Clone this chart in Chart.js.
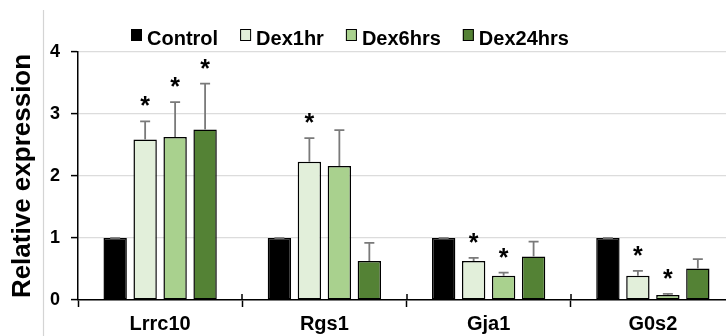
<!DOCTYPE html>
<html>
<head>
<meta charset="utf-8">
<script src="https://cdn.jsdelivr.net/npm/chart.js@4/dist/chart.umd.min.js"></script>
<style>
  html, body { margin: 0; padding: 0; background: #fff; overflow: hidden; width: 726px; height: 336px; }
  canvas { display: block; }
</style>
</head>
<body>
<canvas id="c" width="740" height="336"></canvas>
<script>
// Genes on the x axis
const genes = ['Lrrc10', 'Rgs1', 'Gja1', 'G0s2'];

// Treatment groups
const groupNames = ['Control', 'Dex1hr', 'Dex6hrs', 'Dex24hrs'];

// Mean relative expression per group (one value per gene)
const controlMean  = [1.00, 1.00, 1.00, 1.00];
const dex1hrMean   = [2.59, 2.23, 0.63, 0.39];
const dex6hrsMean  = [2.63, 2.16, 0.39, 0.08];
const dex24hrsMean = [2.75, 0.63, 0.70, 0.51];

// Upper error (SEM) per group
const controlErr  = [0.00, 0.00, 0.00, 0.00];
const dex1hrErr   = [0.29, 0.38, 0.05, 0.08];
const dex6hrsErr  = [0.56, 0.58, 0.05, 0.02];
const dex24hrsErr = [0.74, 0.29, 0.24, 0.15];

// Significance versus control (1 = marked with *)
const controlSig  = [0, 0, 0, 0];
const dex1hrSig   = [1, 1, 1, 1];
const dex6hrsSig  = [1, 0, 1, 1];
const dex24hrsSig = [1, 0, 0, 0];

// Y axis ticks
const yTicks = [0, 1, 2, 3, 4];

const FONT = "'Liberation Sans', Arial, Helvetica, sans-serif";
const fills = ['#000000', '#e2efda', '#a9d18e', '#548235'];

const means = [controlMean, dex1hrMean, dex6hrsMean, dex24hrsMean];
const errs  = [controlErr, dex1hrErr, dex6hrsErr, dex24hrsErr];
const sigs  = [controlSig, dex1hrSig, dex6hrsSig, dex24hrsSig];

const datasets = groupNames.map((name, i) => ({
  label: name,
  data: means[i],
  errors: errs[i],
  significant: sigs[i],
  backgroundColor: fills[i],
  borderColor: '#000000',
  borderWidth: 1.5,
  borderSkipped: false,
  categoryPercentage: 0.73,
  barPercentage: 0.78
}));

// Faint frame line at the left of the figure
const framePlugin = {
  id: 'frame',
  beforeDraw(chart) {
    const ctx = chart.ctx;
    ctx.save();
    ctx.fillStyle = '#ffffff';
    ctx.fillRect(0, 0, chart.width, chart.height);
    ctx.strokeStyle = '#d4d4d4';
    ctx.lineWidth = 1.2;
    ctx.beginPath();
    ctx.moveTo(43.5, 10);
    ctx.lineTo(43.5, chart.height);
    ctx.stroke();
    ctx.restore();
  }
};

// Error bars (upper only) and significance asterisks
const errorBarPlugin = {
  id: 'errorBars',
  afterDatasetsDraw(chart) {
    const ctx = chart.ctx;
    const y = chart.scales.y;
    ctx.save();
    chart.data.datasets.forEach((ds, d) => {
      const meta = chart.getDatasetMeta(d);
      meta.data.forEach((bar, i) => {
        const top = y.getPixelForValue(ds.data[i] + ds.errors[i]);
        ctx.strokeStyle = '#7a7a7a';
        ctx.lineWidth = 1.8;
        ctx.beginPath();
        ctx.moveTo(bar.x, bar.y);
        ctx.lineTo(bar.x, top);
        ctx.moveTo(bar.x - 5, top);
        ctx.lineTo(bar.x + 5, top);
        ctx.stroke();
        if (ds.significant[i]) {
          ctx.fillStyle = '#000000';
          ctx.font = 'bold 25px ' + FONT;
          ctx.textAlign = 'center';
          ctx.textBaseline = 'alphabetic';
          ctx.fillText('*', bar.x, top - 7);
        }
      });
    });
    ctx.restore();
  }
};

// Short marks above the x axis between gene groups
const separatorPlugin = {
  id: 'separators',
  afterDraw(chart) {
    const x = chart.scales.x;
    const ctx = chart.ctx;
    const bottom = chart.chartArea.bottom;
    ctx.save();
    ctx.strokeStyle = '#000000';
    ctx.lineWidth = 1.5;
    ctx.beginPath();
    for (let i = 0; i < genes.length - 1; i++) {
      const px = Math.round((x.getPixelForValue(i) + x.getPixelForValue(i + 1)) / 2);
      ctx.moveTo(px, bottom - 6);
      ctx.lineTo(px, bottom);
    }
    ctx.stroke();
    ctx.restore();
  }
};

// Legend row drawn above the plot
const legendPlugin = {
  id: 'topLegend',
  afterDraw(chart) {
    const ctx = chart.ctx;
    ctx.save();
    ctx.font = 'bold 20px ' + FONT;
    ctx.textBaseline = 'alphabetic';
    ctx.textAlign = 'left';
    let cx = 131;
    chart.data.datasets.forEach(ds => {
      ctx.fillStyle = ds.backgroundColor;
      ctx.fillRect(cx, 29, 11, 12);
      ctx.strokeStyle = '#000000';
      ctx.lineWidth = 1;
      ctx.strokeRect(cx + 0.5, 29.5, 10, 11);
      ctx.fillStyle = '#000000';
      ctx.fillText(ds.label, cx + 16, 44.5);
      cx += 16 + ctx.measureText(ds.label).width + 22;
    });
    ctx.restore();
  }
};

new Chart(document.getElementById('c'), {
  type: 'bar',
  data: { labels: genes, datasets },
  plugins: [framePlugin, errorBarPlugin, separatorPlugin, legendPlugin],
  options: {
    responsive: false,
    animation: false,
    layout: { padding: { top: 52, right: 5, left: 0, bottom: 0 } },
    plugins: { legend: { display: false }, tooltip: { enabled: false } },
    scales: {
      x: {
        offset: true,
        grid: {
          display: true,
          offset: true,
          drawOnChartArea: false,
          drawTicks: true,
          tickLength: 7,
          tickColor: '#000000',
          tickWidth: 1.5
        },
        border: { display: true, color: '#000000', width: 1.5 },
        ticks: {
          color: '#000000',
          font: { family: FONT, size: 20, weight: 'bold' },
          padding: 5,
          maxRotation: 0
        },
        afterFit(scale) { scale.height = 36; }
      },
      y: {
        min: 0,
        max: 4,
        afterBuildTicks(scale) { scale.ticks = yTicks.map(v => ({ value: v })); },
        grid: {
          color: '#dcdcdc',
          lineWidth: 1.2,
          drawTicks: true,
          tickLength: 7,
          tickColor: '#000000',
          tickWidth: 1.5
        },
        border: { display: true, color: '#000000', width: 1.5 },
        ticks: {
          color: '#000000',
          font: { family: FONT, size: 18, weight: 'bold' },
          padding: 11
        },
        title: {
          display: true,
          text: 'Relative expression',
          color: '#000000',
          font: { family: FONT, size: 26, weight: 'bold' },
          padding: { top: 7, bottom: 0 }
        },
        afterFit(scale) { scale.width = 78; }
      }
    }
  }
});
</script>
</body>
</html>
